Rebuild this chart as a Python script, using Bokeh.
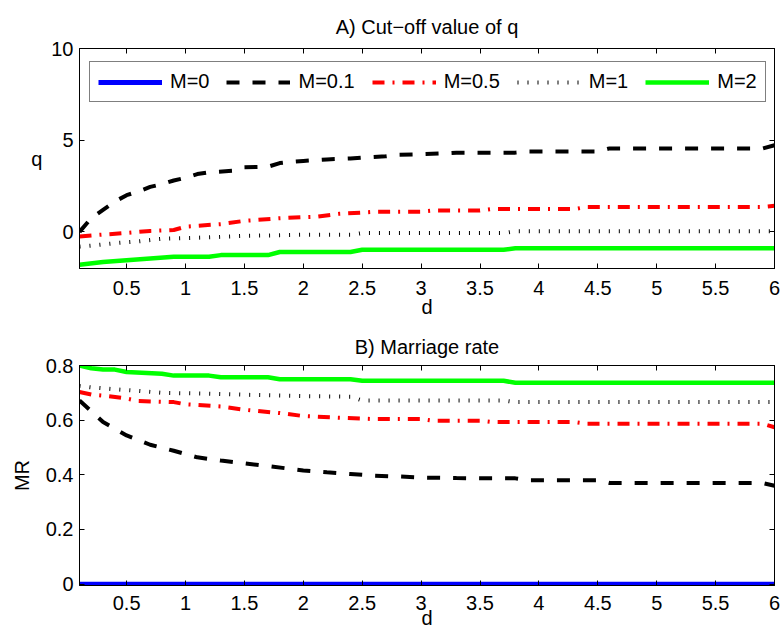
from bokeh.plotting import figure
from bokeh.models import Range1d, LinearAxis, FixedTicker, Legend, LegendItem
from bokeh.layouts import column
from bokeh.embed import file_html
from bokeh.resources import INLINE

nan = float("nan")

# ---------------- data ----------------
x_ticks = [0.5, 1, 1.5, 2, 2.5, 3, 3.5, 4, 4.5, 5, 5.5, 6]
x_tick_labels = ["0.5", "1", "1.5", "2", "2.5", "3", "3.5", "4", "4.5", "5", "5.5", "6"]
q_ticks = [0, 5, 10]
q_tick_labels = ["0", "5", "10"]
mr_ticks = [0, 0.2, 0.4, 0.6, 0.8]
mr_tick_labels = ["0", "0.2", "0.4", "0.6", "0.8"]

labels = ["M=0", "M=0.1", "M=0.5", "M=1", "M=2"]

# Panel A: cut-off value of q
qa_d_m0 = [0.1, 6.0]
qa_m0 = [nan, nan]
qa_d_m01 = [0.1, 0.2, 0.3, 0.4, 0.5, 0.6, 0.7, 0.8, 0.9, 1.0, 1.1, 1.2, 1.4, 1.5, 1.7, 1.8,
            1.9, 2.0, 2.2, 2.4, 2.5, 2.7, 2.8, 3.0, 3.2, 3.3, 3.8, 3.9, 4.5, 4.6, 5.9, 6.0]
qa_m01 = [0.0, 0.75, 1.2, 1.65, 2.0, 2.2, 2.45, 2.6, 2.8, 2.95, 3.15, 3.25, 3.33, 3.52, 3.55, 3.75,
          3.82, 3.87, 3.95, 4.0, 4.05, 4.12, 4.2, 4.23, 4.28, 4.32, 4.32, 4.38, 4.38, 4.55, 4.55, 4.72]
qa_d_m05 = [0.1, 0.3, 0.5, 0.7, 0.9, 1.0, 1.3, 1.5, 1.8, 2.0, 2.1, 2.3, 2.5, 2.6, 3.0, 3.1,
            3.5, 3.6, 4.3, 4.4, 5.9, 6.0]
qa_m05 = [-0.25, -0.15, -0.06, 0.05, 0.1, 0.28, 0.42, 0.6, 0.74, 0.8, 0.82, 0.98, 1.05, 1.09, 1.1, 1.16,
          1.16, 1.24, 1.24, 1.35, 1.35, 1.42]
qa_d_m1 = [0.1, 0.2, 0.4, 0.6, 0.8, 1.2, 1.5, 2.0, 2.4, 2.5, 3.7, 3.8, 6.0]
qa_m1 = [-0.8, -0.75, -0.62, -0.52, -0.38, -0.3, -0.22, -0.16, -0.16, -0.07, -0.07, 0.03, 0.03]
qa_d_m2 = [0.1, 0.3, 0.5, 0.7, 0.9, 1.2, 1.3, 1.7, 1.8, 2.4, 2.5, 3.7, 3.8, 6.0]
qa_m2 = [-1.8, -1.65, -1.55, -1.45, -1.36, -1.36, -1.27, -1.27, -1.1, -1.1, -0.98, -0.98, -0.9, -0.9]

# Panel B: marriage rate
mr_d_m0 = [0.1, 6.0]
mr_m0 = [0.0, 0.0]
mr_d_m01 = [0.1, 0.3, 0.5, 0.7, 0.9, 1.1, 1.3, 1.5, 1.7, 2.0, 2.2, 2.4, 2.6, 2.8, 3.0, 3.3,
            3.5, 3.8, 3.9, 4.5, 4.6, 5.9, 6.0]
mr_m01 = [0.672, 0.593, 0.544, 0.51, 0.488, 0.464, 0.452, 0.442, 0.432, 0.416, 0.409, 0.403, 0.397,
          0.394, 0.39, 0.388, 0.387, 0.387, 0.38, 0.38, 0.37, 0.37, 0.36]
mr_d_m05 = [0.1, 0.2, 0.3, 0.5, 0.6, 0.9, 1.0, 1.3, 1.5, 1.8, 2.0, 2.3, 2.6, 3.0, 3.1, 3.5,
            3.6, 4.3, 4.4, 5.9, 6.0]
mr_m05 = [0.703, 0.694, 0.69, 0.679, 0.67, 0.666, 0.658, 0.65, 0.638, 0.626, 0.615, 0.609, 0.604,
          0.604, 0.598, 0.598, 0.593, 0.593, 0.587, 0.587, 0.574]
mr_d_m1 = [0.1, 0.2, 0.4, 0.6, 0.8, 1.2, 1.5, 2.0, 2.4, 2.5, 3.7, 3.8, 6.0]
mr_m1 = [0.725, 0.72, 0.713, 0.707, 0.7, 0.697, 0.693, 0.688, 0.686, 0.672, 0.672, 0.666, 0.666]
mr_d_m2 = [0.1, 0.2, 0.3, 0.4, 0.5, 0.8, 0.9, 1.2, 1.3, 1.7, 1.8, 2.4, 2.5, 3.7, 3.8, 6.0]
mr_m2 = [0.8, 0.79, 0.785, 0.785, 0.776, 0.77, 0.763, 0.763, 0.757, 0.757, 0.75, 0.75, 0.744,
         0.744, 0.737, 0.737]

# ---------------- styles ----------------
FONT = "Liberation Sans"
FS = "20px"
styles = [
    dict(line_color="#0000ff", line_width=5),
    dict(line_color="black", line_width=4, line_dash="13 13"),
    dict(line_color="#ff0000", line_width=4, line_dash="12 8 2 8"),
    dict(line_color="black", line_width=4, line_dash="1 9"),
    dict(line_color="#00ff00", line_width=4.5),
]


def overrides(ticks, labs):
    return {t: l for t, l in zip(ticks, labs)}


def tick_only_axis(ticks):
    return LinearAxis(ticker=FixedTicker(ticks=ticks), major_label_text_font_size="1px",
                      major_label_text_color=None, major_label_standoff=0,
                      major_tick_in=5, major_tick_out=0, minor_tick_line_color=None,
                      axis_line_color="black", major_tick_line_color="black")


def make_panel(height, ylo, yhi, yt, ylabs, title, title_standoff, top_border, bottom_border):
    p = figure(width=780, height=height, x_range=Range1d(0.1, 6), y_range=Range1d(ylo, yhi),
               output_backend="svg", toolbar_location=None,
               min_border_left=79, min_border_right=6, min_border_top=top_border,
               min_border_bottom=bottom_border, title=title)
    xa = p.xaxis[0]
    ya = p.yaxis[0]
    xa.ticker = FixedTicker(ticks=x_ticks)
    xa.major_label_overrides = overrides(x_ticks, x_tick_labels)
    ya.ticker = FixedTicker(ticks=yt)
    ya.major_label_overrides = overrides(yt, ylabs)
    for ax in (xa, ya):
        ax.major_tick_in = 5
        ax.major_tick_out = 0
        ax.minor_tick_line_color = None
        ax.axis_line_color = "black"
        ax.major_tick_line_color = "black"
        ax.major_label_text_font = FONT
        ax.major_label_text_font_size = FS
        ax.major_label_text_color = "black"
        ax.axis_label_text_font = FONT
        ax.axis_label_text_font_size = FS
        ax.axis_label_text_font_style = "normal"
        ax.axis_label_text_color = "black"
    ya.major_label_standoff = 6
    xa.axis_label = "d"
    p.add_layout(tick_only_axis(x_ticks), "above")
    p.add_layout(tick_only_axis(yt), "right")
    p.xgrid.grid_line_color = None
    p.ygrid.grid_line_color = None
    p.outline_line_color = "black"
    p.title.align = "center"
    p.title.text_font = FONT
    p.title.text_font_size = FS
    p.title.text_font_style = "normal"
    p.title.text_color = "black"
    p.title.standoff = title_standoff
    return p, xa, ya


# ---------------- panel A ----------------
p1, xa1, ya1 = make_panel(324, -2, 10, q_ticks, q_tick_labels, "A) Cut\u2212off value of q", 22, 48, 56)
xa1.major_label_standoff = 12
xa1.axis_label_standoff = -2
ya1.axis_label = "q"
ya1.axis_label_orientation = "horizontal"
ya1.axis_label_standoff = 6

series_a = [(qa_d_m0, qa_m0), (qa_d_m01, qa_m01), (qa_d_m05, qa_m05), (qa_d_m1, qa_m1), (qa_d_m2, qa_m2)]
rends = []
for (dx, dy), st in zip(series_a, styles):
    rends.append(p1.line(dx, dy, **st))

legend = Legend(items=[LegendItem(label=l, renderers=[r]) for l, r in zip(labels, rends)],
                orientation="horizontal", location=(10, 166), padding=8, spacing=17,
                glyph_width=64, glyph_height=20, label_standoff=8, margin=0,
                label_text_font=FONT, label_text_font_size=FS, label_text_color="black",
                border_line_color="black", border_line_width=1, background_fill_color="white",
                background_fill_alpha=1)
p1.add_layout(legend)

# ---------------- panel B ----------------
p2, xa2, ya2 = make_panel(311, -0.005, 0.8, mr_ticks, mr_tick_labels, "B) Marriage rate", 16, 41, 50)
xa2.major_label_standoff = 10
xa2.axis_label_standoff = -6
ya2.axis_label = "MR"
ya2.axis_label_standoff = 10

series_b = [(mr_d_m0, mr_m0), (mr_d_m01, mr_m01), (mr_d_m05, mr_m05), (mr_d_m1, mr_m1), (mr_d_m2, mr_m2)]
for (dx, dy), st in zip(series_b, styles):
    p2.line(dx, dy, **st)

layout = column(p1, p2, spacing=0)
open("out.html", "w").write(file_html(layout, INLINE))
